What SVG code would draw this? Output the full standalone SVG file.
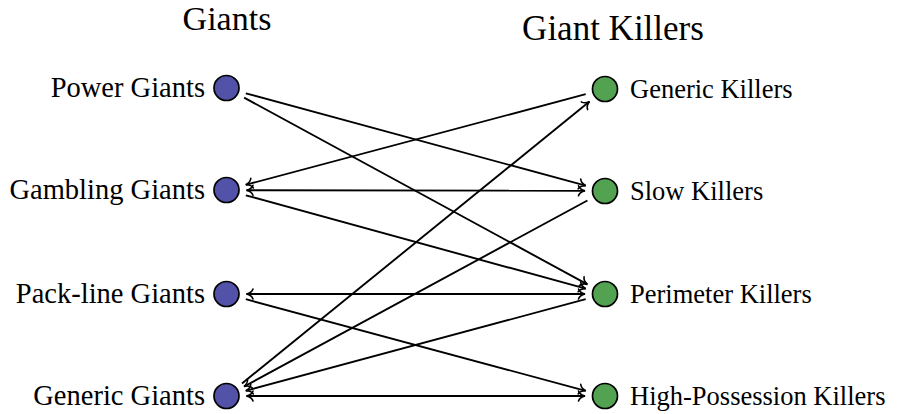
<svg xmlns="http://www.w3.org/2000/svg" width="897" height="414" viewBox="0 0 897 414">
<defs>
<marker id="arr" markerUnits="userSpaceOnUse" orient="auto-start-reverse" markerWidth="14" markerHeight="14" viewBox="-8 -7 10 14" refX="0" refY="0" overflow="visible">
<path d="M -6.5,-5 C -5.5,-2 -2.5,-0.6 0,0 C -2.5,0.6 -5.5,2 -6.5,5" fill="none" stroke="#000" stroke-width="1.6" stroke-linecap="round"/>
</marker>
</defs>
<text font-family="Liberation Serif" font-size="34" text-anchor="middle" x="227" y="30">Giants</text>
<text font-family="Liberation Serif" font-size="35" text-anchor="middle" x="613" y="40">Giant Killers</text>
<g id="connectors" stroke="#000" stroke-width="1.9" fill="none">
<line marker-end="url(#arr)" x1="245.8" y1="93.3" x2="585.7" y2="185.7"/>
<line marker-end="url(#arr)" x1="244.1" y1="97.6" x2="587.4" y2="284.4"/>
<line marker-end="url(#arr)" x1="585.7" y1="94.2" x2="245.8" y2="184.8"/>
<line marker-start="url(#arr)" marker-end="url(#arr)" x1="246.5" y1="190.2" x2="585" y2="190.8"/>
<line marker-end="url(#arr)" x1="245.8" y1="195.3" x2="585.7" y2="288.7"/>
<line marker-end="url(#arr)" x1="587.4" y1="200.5" x2="244.1" y2="386.5"/>
<line marker-end="url(#arr)" x1="242" y1="383.4" x2="589.5" y2="101.6"/>
<line marker-start="url(#arr)" marker-end="url(#arr)" x1="585" y1="294" x2="246.5" y2="294"/>
<line marker-end="url(#arr)" x1="245.8" y1="299.2" x2="585.7" y2="390.8"/>
<line marker-end="url(#arr)" x1="585.7" y1="299.2" x2="245.8" y2="390.8"/>
<line marker-start="url(#arr)" marker-end="url(#arr)" x1="246.5" y1="396" x2="585" y2="396"/>
</g>
<g id="power-giants"><circle cx="226.5" cy="88" r="12.5" fill="#5252A8" stroke="#000" stroke-width="1.7"/><text font-family="Liberation Serif" font-size="28.5" text-anchor="end" x="205" y="97">Power Giants</text></g>
<g id="gambling-giants"><circle cx="226.5" cy="190" r="12.5" fill="#5252A8" stroke="#000" stroke-width="1.7"/><text font-family="Liberation Serif" font-size="28.5" text-anchor="end" x="205" y="199">Gambling Giants</text></g>
<g id="pack-line-giants"><circle cx="226.5" cy="294" r="12.5" fill="#5252A8" stroke="#000" stroke-width="1.7"/><text font-family="Liberation Serif" font-size="28.5" text-anchor="end" x="205" y="303">Pack-line Giants</text></g>
<g id="generic-giants"><circle cx="226.5" cy="396" r="12.5" fill="#5252A8" stroke="#000" stroke-width="1.7"/><text font-family="Liberation Serif" font-size="28.5" text-anchor="end" x="205" y="405">Generic Giants</text></g>
<g id="generic-killers"><circle cx="605" cy="89" r="12.5" fill="#52A252" stroke="#000" stroke-width="1.7"/><text font-family="Liberation Serif" font-size="26.5" x="630" y="98">Generic Killers</text></g>
<g id="slow-killers"><circle cx="605" cy="191" r="12.5" fill="#52A252" stroke="#000" stroke-width="1.7"/><text font-family="Liberation Serif" font-size="26.5" x="630" y="200">Slow Killers</text></g>
<g id="perimeter-killers"><circle cx="605" cy="294" r="12.5" fill="#52A252" stroke="#000" stroke-width="1.7"/><text font-family="Liberation Serif" font-size="26.5" x="630" y="303">Perimeter Killers</text></g>
<g id="high-possession-killers"><circle cx="605" cy="396" r="12.5" fill="#52A252" stroke="#000" stroke-width="1.7"/><text font-family="Liberation Serif" font-size="26.5" x="630" y="405">High-Possession Killers</text></g>
</svg>
